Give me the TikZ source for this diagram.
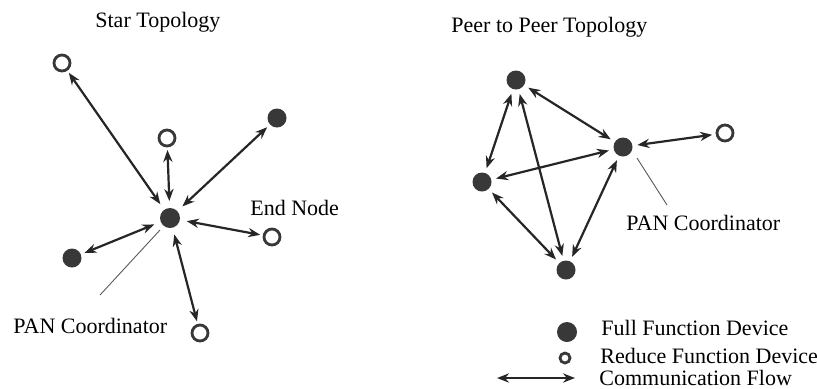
\documentclass[tikz,border=0pt]{standalone}
\usepackage{fontspec}
\setmainfont{Liberation Serif}
\usetikzlibrary{arrows.meta}
\definecolor{devfill}{HTML}{383838}
\definecolor{linecol}{HTML}{262626}
\begin{document}
\begin{tikzpicture}[x=0.5pt,y=-0.5pt,
  ffd/.style={circle,fill=devfill,inner sep=0pt,minimum size=9.5pt,outer sep=2pt},
  rfd/.style={circle,draw=devfill,line width=1.4pt,fill=white,inner sep=0pt,minimum size=8pt,outer sep=2pt},
  hub/.style={ffd,minimum size=10pt,outer sep=3.5pt},
  flow/.style={draw=linecol,line width=1.1pt,{Stealth[length=6pt,width=4.6pt]}-{Stealth[length=6pt,width=4.6pt]}},
  leader/.style={draw=gray!70!black,line width=0.45pt},
  lbl/.style={font=\fontsize{11}{13}\selectfont,anchor=base west,inner sep=0pt}]
\useasboundingbox[fill=white] (0,0) rectangle (817,388);

% ---- star topology ----
\node[lbl] (startitle) at (95,27) {Star Topology};
\node[hub] (c)  at (170,218) {};
\node[rfd] (s1) at (62,63) {};
\node[rfd] (s2) at (167,138) {};
\node[ffd] (s3) at (277,118) {};
\node[rfd] (s4) at (272,237) {};
\node[ffd] (s5) at (72,258) {};
\node[rfd] (s6) at (200,333) {};
\foreach \n in {s1,s2,s3,s4,s5,s6} \draw[flow] (c) -- (\n);
\node[lbl] (endnode) at (250,215) {End Node};
\node[lbl] (starpan) at (13,333) {PAN Coordinator};
\coordinate (sl1) at (160,230);
\coordinate (sl2) at (100,295);
\draw[leader] (sl1) -- (sl2);

% ---- peer to peer topology ----
\node[lbl] (peertitle) at (451,32) {Peer to Peer Topology};
\node[ffd,outer sep=2.5pt] (pt) at (516,80) {};
\node[ffd,outer sep=2.5pt] (pr) at (623,147) {};
\node[ffd,outer sep=2.5pt] (pl) at (482,182) {};
\node[ffd,outer sep=2.5pt] (pb) at (566,270) {};
\node[rfd,outer sep=2.5pt] (po) at (725,133) {};
\draw[flow] (pt) -- (pr);
\draw[flow] (pt) -- (pl);
\draw[flow] (pt) -- (pb);
\draw[flow] (pl) -- (pr);
\draw[flow] (pl) -- (pb);
\draw[flow] (pr) -- (pb);
\draw[flow] (pr) -- (po);
\node[lbl] (peerpan) at (626,230) {PAN Coordinator};
\coordinate (pl1) at (637,158);
\coordinate (pl2) at (667,205);
\draw[leader] (pl1) -- (pl2);

% ---- legend ----
\node[ffd,minimum size=10pt] (kf) at (567,332) {};
\node[rfd,minimum size=5pt] (ko) at (565,358) {};
\coordinate (ka) at (497,378);
\coordinate (kb) at (575,378);
\draw[flow] (ka) -- (kb);
\node[lbl] (kft) at (601,335) {Full Function Device};
\node[lbl] (kot) at (600,363) {Reduce Function Device};
\node[lbl] (kat) at (599,385) {Communication Flow};
\end{tikzpicture}
\end{document}
